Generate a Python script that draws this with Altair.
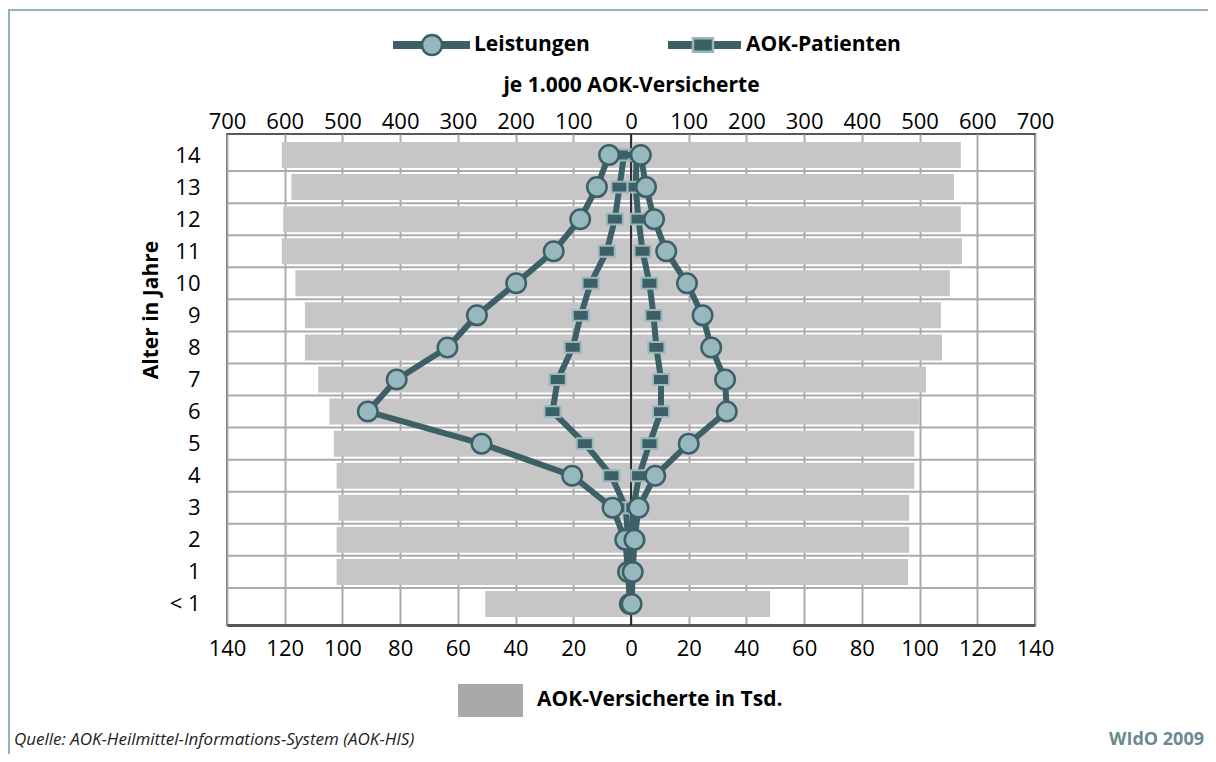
import altair as alt
import pandas as pd

# ---- data ----
ages = ["< 1", "1", "2", "3", "4", "5", "6", "7", "8", "9", "10", "11", "12", "13", "14"]
# AOK-Versicherte in Tsd. (left / right half)
vers_left = [50.5, 102, 102, 101.4, 102, 103, 104.5, 108.4, 113, 113, 116.3, 121, 120.5, 117.7, 121]
vers_right = [48.2, 96, 96.4, 96.4, 98.2, 98.2, 100, 102.2, 107.8, 107.4, 110.5, 114.7, 114.3, 111.9, 114.3]
# je 1.000 AOK-Versicherte
leist_left = [2, 5, 10, 32, 102, 259, 456, 406, 318, 267, 199, 134, 88, 59, 38]
leist_right = [1, 3, 6, 13, 42, 100, 166, 163, 139, 124, 97, 61, 40, 26, 17]
pat_left = [1, 3, 5, 9, 34, 80, 136, 127, 101, 87, 70, 42, 28, 20, 12]
pat_right = [1, 2, 3, 4, 14, 32, 52, 52, 44, 39, 32, 20, 13, 8, 10]

bottom_ticks = list(range(-140, 141, 20))
top_ticks = list(range(-700, 701, 100))

n = len(ages)
idx = list(range(n))

bars = pd.DataFrame({
    "idx": idx * 2,
    "val": [-v for v in vers_left] + vers_right,
})
grid = pd.DataFrame({"g": [i + 0.5 for i in range(n - 1)]})

rows = []
for name, lv, rv in [("Leistungen", leist_left, leist_right), ("AOK-Patienten", pat_left, pat_right)]:
    for i in idx:
        rows.append({"series": name, "idx": i, "x": -lv[i], "ord": i})
    for i in idx:
        rows.append({"series": name, "idx": i, "x": rv[i], "ord": 2 * n - 1 - i})
lines = pd.DataFrame(rows)

one = pd.DataFrame({"k": [0]})

# ---- styles ----
DARK = "#3d5f66"
LIGHT = "#97b8bf"
GRID = "#ababab"
FONT = "Open Sans"
RECT = "M-1,-0.68H1V0.68H-1Z"

yscale = alt.Scale(domain=[-0.5, n - 0.5], nice=False, zero=False)
yaxis = alt.Axis(values=idx, labelExpr="datum.value == 0 ? '< 1' : format(datum.value, 'd')",
                 ticks=False, domain=False, grid=False, labelFontSize=22, labelPadding=27,
                 labelColor="black", title=None)
Y = lambda f: alt.Y(f, scale=yscale, axis=yaxis)

bscale = alt.Scale(domain=[-140, 140], nice=False)
baxis = alt.Axis(orient="bottom", values=bottom_ticks, labelExpr="format(abs(datum.value), 'd')",
                 grid=True, gridColor=GRID, gridWidth=2, ticks=False, domain=True,
                 domainColor="#555555", domainWidth=3, labelFontSize=22, labelPadding=13,
                 labelFlush=False, labelOverlap=False, labelColor="black", title=None)

tscale = alt.Scale(domain=[-700, 700], nice=False)
taxis = alt.Axis(orient="top", values=top_ticks, labelExpr="format(abs(datum.value), 'd')",
                 grid=False, ticks=False, domain=False, labelFontSize=22, labelPadding=1,
                 labelFlush=False, labelOverlap=False, labelColor="black",
                 title="je 1.000 AOK-Versicherte", titleFontSize=21, titleFontWeight="bold",
                 titlePadding=15, titleColor="black")

# ---- bar group (Tsd. scale) ----
grid_layer = alt.Chart(grid).mark_rule(color=GRID, strokeWidth=2).encode(y=Y("g:Q"))
bar_layer = alt.Chart(bars).mark_bar(color="#c6c6c6", size=26, orient="horizontal").encode(
    x=alt.X("val:Q", scale=bscale, axis=baxis),
    x2=alt.datum(0),
    y=Y("idx:Q"),
)
zero_layer = alt.Chart(one).mark_rule(color="black", strokeWidth=1.5).encode(
    x=alt.XDatum(0, scale=bscale, axis=baxis)
)
bar_group = alt.layer(grid_layer, bar_layer, zero_layer)

# ---- line group (per 1000 scale) ----
X = alt.X("x:Q", scale=tscale, axis=taxis)
pat = alt.Chart(lines).transform_filter(alt.datum.series == "AOK-Patienten")
lei = alt.Chart(lines).transform_filter(alt.datum.series == "Leistungen")

pat_line = pat.mark_line(color=DARK, strokeWidth=6, strokeJoin="round").encode(
    x=X, y=Y("idx:Q"), order="ord:Q")
pat_pts = pat.mark_point(shape=RECT, filled=True, fill=DARK, stroke=LIGHT, strokeWidth=2,
                         size=256, opacity=1).encode(x=X, y=Y("idx:Q"))
lei_line = lei.mark_line(color=DARK, strokeWidth=6, strokeJoin="round").encode(
    x=X, y=Y("idx:Q"), order="ord:Q")
lei_pts = lei.mark_point(shape="circle", filled=True, fill=LIGHT, stroke=DARK, strokeWidth=2.5,
                         size=380, opacity=1).encode(x=X, y=Y("idx:Q"))
line_group = alt.layer(pat_line, pat_pts, lei_line, lei_pts)

# ---- legends, titles, frame (pixel positions relative to the plot area) ----
base = alt.Chart(one)
leg_y = -89
leg = [
    base.mark_rule(color=DARK, strokeWidth=8).encode(x=alt.value(166), x2=alt.value(243), y=alt.value(leg_y)),
    base.mark_point(shape="circle", filled=True, fill=LIGHT, stroke=DARK, strokeWidth=2.5, size=400,
                    opacity=1).encode(x=alt.value(205), y=alt.value(leg_y)),
    base.mark_text(text="Leistungen", align="left", baseline="middle", fontSize=21, fontWeight="bold",
                   color="black").encode(x=alt.value(247), y=alt.value(leg_y)),
    base.mark_rule(color=DARK, strokeWidth=8).encode(x=alt.value(441), x2=alt.value(514), y=alt.value(leg_y)),
    base.mark_point(shape=RECT, filled=True, fill=DARK, stroke=LIGHT, strokeWidth=2.5, size=400,
                    opacity=1).encode(x=alt.value(476), y=alt.value(leg_y)),
    base.mark_text(text="AOK-Patienten", align="left", baseline="middle", fontSize=21, fontWeight="bold",
                   color="black").encode(x=alt.value(519), y=alt.value(leg_y)),
    base.mark_rect(color="#a9a9a9").encode(x=alt.value(231), x2=alt.value(296),
                                           y=alt.value(550), y2=alt.value(583)),
    base.mark_text(text="AOK-Versicherte in Tsd.", align="left", baseline="middle", fontSize=21,
                   fontWeight="bold", color="black").encode(x=alt.value(310), y=alt.value(566)),
    base.mark_text(text="Alter in Jahre", angle=270, align="center", baseline="middle", fontSize=21,
                   fontWeight="bold", color="black").encode(x=alt.value(-75), y=alt.value(176)),
    base.mark_text(text="Quelle: AOK-Heilmittel-Informations-System (AOK-HIS)", align="left",
                   baseline="alphabetic", fontSize=17, fontStyle="italic", color="#222222").encode(
        x=alt.value(-213), y=alt.value(611)),
    base.mark_text(text="WIdO 2009", align="right", baseline="alphabetic", fontSize=18,
                   fontWeight="bold", color="#6a8990").encode(x=alt.value(977), y=alt.value(611)),
    base.mark_rule(color="#8fb3ba", strokeWidth=2).encode(x=alt.value(-218), y=alt.value(-125),
                                                          y2=alt.value(620)),
    base.mark_rule(color="#8fb3ba", strokeWidth=2).encode(x=alt.value(-219), x2=alt.value(981),
                                                          y=alt.value(-124)),
]

chart = alt.layer(bar_group, line_group, *leg).resolve_scale(x="independent").properties(
    width=808, height=491, autosize="none",
    padding={"left": 219, "top": 126, "right": 173, "bottom": 129},
).configure(font=FONT).configure_view(stroke="#222222", strokeWidth=1.5)

chart.save("out.html", embed_options={"renderer": "svg", "actions": False})
